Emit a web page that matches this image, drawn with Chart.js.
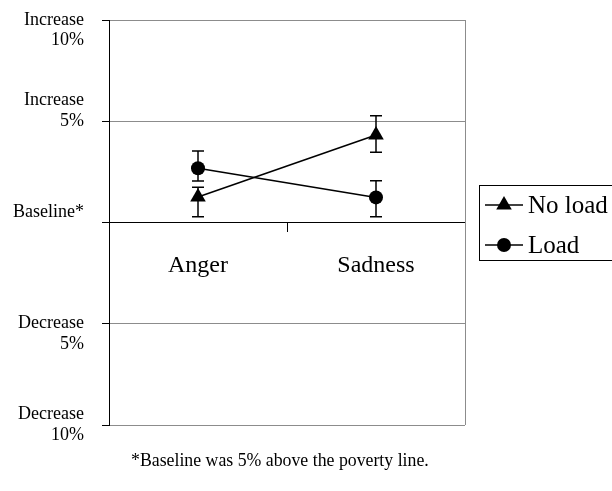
<!DOCTYPE html>
<html><head><meta charset="utf-8">
<script src="https://cdn.jsdelivr.net/npm/chart.js@4"></script>
<style>
html,body{margin:0;padding:0;background:#fff;width:612px;height:491px;overflow:hidden;}
#wrap{position:relative;width:612px;height:491px;}
canvas{position:absolute;left:0;top:0;}
#note{position:absolute;left:131px;top:450px;font:17.8px "Liberation Serif",serif;color:#000;white-space:nowrap;line-height:20px;}
</style></head><body>
<div id="wrap"><canvas id="c" width="612" height="491"></canvas><div id="note">*Baseline was 5% above the poverty line.</div></div>
<script>
const categories = ['Anger', 'Sadness'];
const seriesNames = ['No load', 'Load'];
const noLoad = [1.26, 4.32];
const noLoadHigh = [1.74, 5.27];
const noLoadLow = [0.29, 3.47];
const load = [2.68, 1.24];
const loadHigh = [3.53, 2.06];
const loadLow = [2.05, 0.29];
const yTickValues = [-10, -5, 0, 5, 10];
const yTickLabels = [['Decrease', '10%'], ['Decrease', '5%'], ['Baseline*'], ['Increase', '5%'], ['Increase', '10%']];

const SERIF = '"Liberation Serif", "Times New Roman", serif';
const GRID = '#8c8c8c';
// label nudges (style only): 'up' adds a blank line below, 'down' adds one above
const LABEL_NUDGE = { '10': 'down', '5': 'up', '0': 'up', '-5': 'down' };

const errorBars = {
  id: 'errorBars',
  beforeDatasetsDraw(chart) {
    const ctx = chart.ctx, ys = chart.scales.y;
    ctx.save();
    ctx.strokeStyle = '#000'; ctx.lineWidth = 1.5;
    chart.data.datasets.forEach((ds, di) => {
      const meta = chart.getDatasetMeta(di);
      meta.data.forEach((pt, i) => {
        const x = pt.x;
        const yh = ys.getPixelForValue(ds.errHigh[i]);
        const yl = ys.getPixelForValue(ds.errLow[i]);
        ctx.beginPath();
        ctx.moveTo(x, yh); ctx.lineTo(x, yl);
        ctx.moveTo(x - 6, yh); ctx.lineTo(x + 6, yh);
        ctx.moveTo(x - 6, yl); ctx.lineTo(x + 6, yl);
        ctx.stroke();
      });
    });
    ctx.restore();
  }
};

const plotFrame = {
  id: 'plotFrame',
  beforeDatasetsDraw(chart) {
    const {ctx, chartArea: a} = chart;
    ctx.save();
    ctx.strokeStyle = GRID; ctx.lineWidth = 1;
    ctx.beginPath();
    ctx.moveTo(Math.round(a.right) + 0.5, a.top);
    ctx.lineTo(Math.round(a.right) + 0.5, a.bottom);
    ctx.stroke();
    ctx.restore();
  }
};

function drawMarker(ctx, style, r, x, y) {
  ctx.beginPath();
  if (style === 'triangle') {
    ctx.moveTo(x, y - r);
    ctx.lineTo(x + r * 0.866, y + r * 0.5);
    ctx.lineTo(x - r * 0.866, y + r * 0.5);
    ctx.closePath();
  } else {
    ctx.arc(x, y, r, 0, Math.PI * 2);
  }
  ctx.fill();
}

const boxLegend = {
  id: 'boxLegend',
  afterDraw(chart) {
    const ctx = chart.ctx;
    ctx.save();
    ctx.strokeStyle = '#000'; ctx.lineWidth = 1;
    ctx.strokeRect(479.5, 185.5, 150, 75);
    ctx.font = '25px ' + SERIF;
    ctx.textBaseline = 'middle';
    ctx.textAlign = 'left';
    chart.data.datasets.forEach((ds, i) => {
      const y = 205 + i * 40;
      ctx.strokeStyle = '#000'; ctx.lineWidth = 1.5;
      ctx.beginPath(); ctx.moveTo(485, y); ctx.lineTo(523, y); ctx.stroke();
      ctx.fillStyle = '#000';
      drawMarker(ctx, ds.pointStyle, ds.pointRadius, 504, y);
      ctx.fillText(ds.label, 528, y + 1);
    });
    ctx.restore();
  }
};

function yLabel(v) {
  const lines = yTickLabels[yTickValues.indexOf(v)].slice();
  const n = LABEL_NUDGE[String(v)];
  if (n === 'up') lines.push('');
  if (n === 'down') lines.unshift('');
  return lines;
}

new Chart(document.getElementById('c'), {
  type: 'line',
  data: {
    labels: categories,
    datasets: [
      { label: seriesNames[0], data: noLoad, errHigh: noLoadHigh, errLow: noLoadLow,
        borderColor: '#000', backgroundColor: '#000', borderWidth: 1.5,
        pointStyle: 'triangle', pointRadius: 9, pointBackgroundColor: '#000', pointBorderColor: '#000', pointBorderWidth: 0 },
      { label: seriesNames[1], data: load, errHigh: loadHigh, errLow: loadLow,
        borderColor: '#000', backgroundColor: '#000', borderWidth: 1.5,
        pointStyle: 'circle', pointRadius: 7, pointBackgroundColor: '#000', pointBorderColor: '#000', pointBorderWidth: 0 }
    ]
  },
  options: {
    responsive: false,
    animation: false,
    devicePixelRatio: 1,
    layout: { padding: { top: 20, right: 147, bottom: 66, left: 0 } },
    plugins: { legend: { display: false }, tooltip: { enabled: false } },
    elements: { line: { tension: 0 } },
    scales: {
      x: {
        type: 'category',
        position: { y: 0 },
        offset: true,
        afterFit(s) { s.paddingLeft = 0; s.paddingRight = 0; },
        grid: { offset: true, drawOnChartArea: false, drawTicks: true, tickLength: 9, color: '#000', tickWidth: 1 },
        border: { color: '#000', width: 1 },
        ticks: { font: { family: SERIF, size: 24 }, color: '#000', padding: 20, maxRotation: 0 }
      },
      y: {
        min: -10, max: 10,
        afterBuildTicks(s) { s.ticks = yTickValues.map(v => ({ value: v })); },
        afterFit(s) { s.width = 109; s.paddingTop = 0; s.paddingBottom = 0; },
        grid: {
          color: (c) => (c.tick && c.tick.value === 0) ? 'rgba(0,0,0,0)' : GRID,
          tickColor: '#000', tickLength: 7, lineWidth: 1
        },
        border: { color: '#000', width: 1 },
        ticks: {
          font: { family: SERIF, size: 18, lineHeight: 1.15 }, color: '#000', padding: 18,
          callback: (v) => yLabel(v)
        }
      }
    }
  },
  plugins: [plotFrame, errorBars, boxLegend]
});
</script>
</body></html>
